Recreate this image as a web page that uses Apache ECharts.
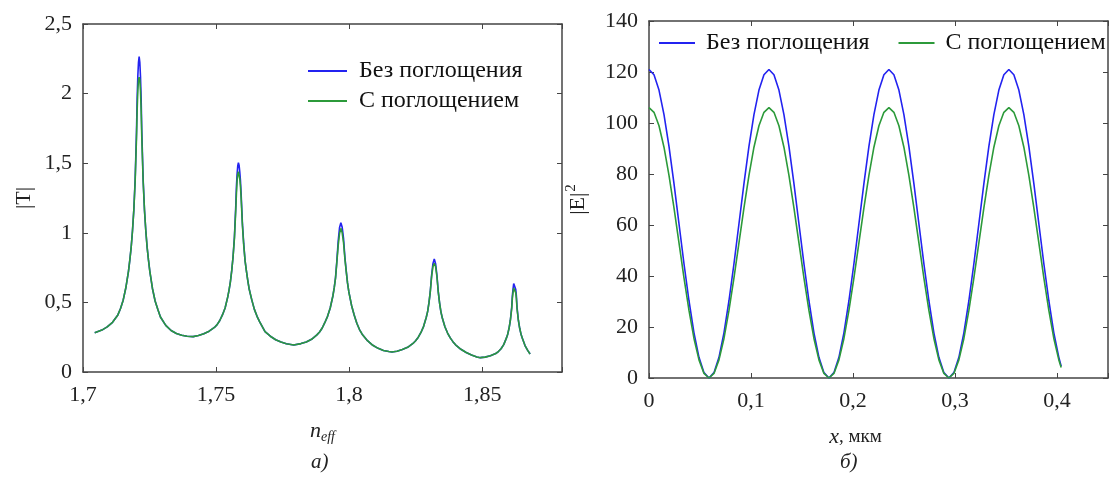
<!DOCTYPE html>
<html>
<head>
<meta charset="utf-8">
<script src="https://cdn.jsdelivr.net/npm/echarts@6/dist/echarts.min.js"></script>
<style>
  html, body { margin: 0; padding: 0; background: #fff; }
  #chart { width: 1111px; height: 477px; }
</style>
</head>
<body>
<div id="chart"></div>
<script>
// ---- данные (а): |T| от n_eff ----
var nEff = [
  1.7044, 1.7071, 1.7091, 1.7111, 1.7131, 1.7141, 1.7151, 1.7161, 1.7171, 1.7176, 1.7181, 1.7186, 1.7191, 1.7196, 1.7201, 1.72035, 1.7206, 1.72085, 1.7211,
  1.72135, 1.7216, 1.72185, 1.7221, 1.7226, 1.7231, 1.7236, 1.7241, 1.7246, 1.7251, 1.7261, 1.7271, 1.7281, 1.7291, 1.7311, 1.7331, 1.7351, 1.7371, 1.7391, 1.7414,
  1.7434, 1.7454, 1.7474, 1.7494, 1.7504, 1.7514, 1.7524, 1.7534, 1.7544, 1.7549, 1.7554, 1.7559, 1.7564, 1.7569, 1.7574, 1.75765, 1.7579, 1.75815, 1.7584,
  1.75865, 1.7589, 1.75915, 1.7594, 1.7599, 1.7604, 1.7609, 1.7614, 1.7619, 1.7624, 1.7634, 1.7644, 1.7654, 1.7664, 1.7684, 1.7704, 1.7724, 1.7744, 1.7764, 1.7792,
  1.7819, 1.7839, 1.7859, 1.7879, 1.7889, 1.7899, 1.7909, 1.7919, 1.7929, 1.7939, 1.7944, 1.7949, 1.7954, 1.7959, 1.7964, 1.7969,
  1.7974, 1.7979, 1.7984, 1.7989, 1.7994, 1.7999, 1.8009, 1.8019, 1.8029, 1.8039, 1.8049, 1.8069, 1.8089, 1.8109, 1.8129, 1.8149, 1.8161,
  1.8180, 1.8200, 1.8220, 1.8240, 1.8250, 1.8260, 1.8270, 1.8280, 1.8290, 1.8295, 1.8300, 1.8305, 1.8310, 1.8315, 1.8320,
  1.8325, 1.8330, 1.8335, 1.8340, 1.8345, 1.8350, 1.8360, 1.8370, 1.8380, 1.8390, 1.8400, 1.8420, 1.8440, 1.8460, 1.8480, 1.8493,
  1.8511, 1.8531, 1.8551, 1.8561, 1.8571, 1.8581, 1.8591, 1.8596, 1.8601, 1.8606, 1.8611, 1.86135, 1.8616, 1.86185, 1.8621,
  1.86235, 1.8626, 1.86285, 1.8631, 1.8636, 1.8641, 1.8646, 1.8651, 1.8661, 1.8671, 1.8680
];
// без поглощения
var tNoLoss = [
  0.282, 0.301, 0.324, 0.357, 0.41, 0.456, 0.516, 0.605, 0.725, 0.805, 0.895, 1.015, 1.165, 1.385, 1.725, 1.965, 2.125, 2.225, 2.265,
  2.225, 2.125, 1.965, 1.725, 1.385, 1.165, 1.015, 0.895, 0.805, 0.725, 0.60, 0.51, 0.45, 0.395, 0.335, 0.298, 0.277, 0.264, 0.257, 0.254,
  0.262, 0.275, 0.293, 0.32, 0.34, 0.37, 0.41, 0.46, 0.54, 0.59, 0.65, 0.73, 0.83, 0.97, 1.19, 1.33, 1.42, 1.48, 1.504,
  1.486, 1.44, 1.38, 1.29, 1.07, 0.92, 0.80, 0.726, 0.66, 0.60, 0.52, 0.45, 0.40, 0.36, 0.29, 0.257, 0.232, 0.215, 0.203, 0.194,
  0.204, 0.216, 0.235, 0.267, 0.287, 0.316, 0.356, 0.40, 0.46, 0.546, 0.604, 0.68, 0.80, 0.94, 1.036, 1.073,
  1.04, 0.96, 0.83, 0.73, 0.64, 0.575, 0.48, 0.41, 0.35, 0.305, 0.272, 0.225, 0.192, 0.17, 0.155, 0.147, 0.144,
  0.149, 0.162, 0.177, 0.205, 0.225, 0.25, 0.284, 0.328, 0.393, 0.434, 0.496, 0.578, 0.695, 0.778, 0.812,
  0.778, 0.695, 0.578, 0.495, 0.432, 0.39, 0.325, 0.28, 0.245, 0.218, 0.195, 0.163, 0.14, 0.122, 0.108, 0.103,
  0.107, 0.117, 0.133, 0.147, 0.167, 0.197, 0.243, 0.272, 0.314, 0.372, 0.466, 0.549, 0.595, 0.635, 0.649,
  0.635, 0.595, 0.549, 0.466, 0.372, 0.314, 0.272, 0.243, 0.19, 0.155, 0.129
];
// с поглощением
var tLoss = [
  0.282, 0.301, 0.324, 0.357, 0.41, 0.456, 0.516, 0.605, 0.725, 0.805, 0.895, 1.015, 1.165, 1.37, 1.68, 1.88, 2.02, 2.10, 2.117,
  2.10, 2.02, 1.88, 1.68, 1.37, 1.165, 1.015, 0.895, 0.805, 0.725, 0.60, 0.51, 0.45, 0.395, 0.335, 0.298, 0.277, 0.264, 0.257, 0.254,
  0.262, 0.275, 0.293, 0.32, 0.34, 0.37, 0.41, 0.46, 0.54, 0.59, 0.65, 0.73, 0.83, 0.96, 1.16, 1.28, 1.37, 1.42, 1.439,
  1.425, 1.39, 1.34, 1.26, 1.055, 0.91, 0.80, 0.726, 0.66, 0.60, 0.52, 0.45, 0.40, 0.36, 0.29, 0.257, 0.232, 0.215, 0.203, 0.194,
  0.204, 0.216, 0.235, 0.267, 0.287, 0.316, 0.356, 0.40, 0.46, 0.546, 0.604, 0.675, 0.79, 0.91, 0.995, 1.032,
  1.0, 0.93, 0.815, 0.725, 0.64, 0.575, 0.48, 0.41, 0.35, 0.305, 0.272, 0.225, 0.192, 0.17, 0.155, 0.147, 0.144,
  0.149, 0.162, 0.177, 0.205, 0.225, 0.25, 0.284, 0.328, 0.393, 0.434, 0.496, 0.575, 0.685, 0.757, 0.781,
  0.757, 0.685, 0.575, 0.495, 0.432, 0.39, 0.325, 0.28, 0.245, 0.218, 0.195, 0.163, 0.14, 0.122, 0.108, 0.103,
  0.107, 0.117, 0.133, 0.147, 0.167, 0.197, 0.243, 0.272, 0.314, 0.372, 0.455, 0.53, 0.57, 0.603, 0.613,
  0.603, 0.57, 0.53, 0.455, 0.372, 0.314, 0.272, 0.243, 0.19, 0.155, 0.129
];

// ---- данные (б): |E|^2 от x, мкм ----
var xPos = [
  0, 0.0049, 0.0098, 0.0147, 0.0196, 0.0245, 0.0294, 0.0343, 0.0392, 0.0441, 0.049, 0.0539,
  0.0588, 0.0637, 0.0686, 0.0735, 0.0784, 0.0833, 0.0882, 0.0931, 0.098, 0.1029, 0.1078, 0.1127,
  0.1176, 0.1225, 0.1274, 0.1323, 0.1372, 0.1421, 0.147, 0.1519, 0.1568, 0.1617, 0.1666, 0.1715,
  0.1764, 0.1813, 0.1862, 0.1911, 0.196, 0.2009, 0.2058, 0.2107, 0.2156, 0.2205, 0.2254, 0.2303,
  0.2352, 0.2401, 0.245, 0.2499, 0.2548, 0.2597, 0.2646, 0.2695, 0.2744, 0.2793, 0.2842, 0.2891,
  0.294, 0.2989, 0.3038, 0.3087, 0.3136, 0.3185, 0.3234, 0.3283, 0.3332, 0.3381, 0.343, 0.3479,
  0.3528, 0.3577, 0.3626, 0.3675, 0.3724, 0.3773, 0.3822, 0.3871, 0.392, 0.3969, 0.4018, 0.4041
];
var eNoLoss = [
  121, 118.9, 112.9, 103.3, 90.8, 76.2, 60.5, 44.8, 30.3, 17.7, 8.1, 2.1,
  0, 2.1, 8.1, 17.7, 30.3, 44.8, 60.5, 76.2, 90.8, 103.3, 112.9, 118.9,
  121, 118.9, 112.9, 103.3, 90.8, 76.2, 60.5, 44.8, 30.3, 17.7, 8.1, 2.1,
  0, 2.1, 8.1, 17.7, 30.3, 44.8, 60.5, 76.2, 90.8, 103.3, 112.9, 118.9,
  121, 118.9, 112.9, 103.3, 90.8, 76.2, 60.5, 44.8, 30.3, 17.7, 8.1, 2.1,
  0, 2.1, 8.1, 17.7, 30.3, 44.8, 60.5, 76.2, 90.8, 103.3, 112.9, 118.9,
  121, 118.9, 112.9, 103.3, 90.8, 76.2, 60.5, 44.8, 30.3, 17.7, 8.1, 4.6
];
var eLoss = [
  106, 104.2, 98.9, 90.5, 79.5, 66.7, 53, 39.3, 26.5, 15.5, 7.1, 1.8,
  0, 1.8, 7.1, 15.5, 26.5, 39.3, 53, 66.7, 79.5, 90.5, 98.9, 104.2,
  106, 104.2, 98.9, 90.5, 79.5, 66.7, 53, 39.3, 26.5, 15.5, 7.1, 1.8,
  0, 1.8, 7.1, 15.5, 26.5, 39.3, 53, 66.7, 79.5, 90.5, 98.9, 104.2,
  106, 104.2, 98.9, 90.5, 79.5, 66.7, 53, 39.3, 26.5, 15.5, 7.1, 1.8,
  0, 1.8, 7.1, 15.5, 26.5, 39.3, 53, 66.7, 79.5, 90.5, 98.9, 104.2,
  106, 104.2, 98.9, 90.5, 79.5, 66.7, 53, 39.3, 26.5, 15.5, 7.1, 4.1
];

// подписи делений
var nTicks = [1.7, 1.75, 1.8, 1.85];
var nTickLabels = ['1,7', '1,75', '1,8', '1,85'];
var tTicks = [0, 0.5, 1, 1.5, 2, 2.5];
var tTickLabels = ['0', '0,5', '1', '1,5', '2', '2,5'];
var xTicks = [0, 0.1, 0.2, 0.3, 0.4];
var xTickLabels = ['0', '0,1', '0,2', '0,3', '0,4'];
var eTicks = [0, 20, 40, 60, 80, 100, 120, 140];
var eTickLabels = ['0', '20', '40', '60', '80', '100', '120', '140'];

var seriesNames = ['Без поглощения', 'С поглощением'];

var FONT = '"Liberation Serif", "Times New Roman", serif';
var BLUE = '#2323f0';
var GREEN = '#2c9a3a';
var AXIS = '#444';

function tickFmt(vals, labels) {
  return function (v) {
    for (var i = 0; i < vals.length; i++) {
      if (Math.abs(v - vals[i]) < 1e-6) return labels[i];
    }
    return '';
  };
}

function pairs(xs, ys) {
  return xs.map(function (x, i) { return [x, ys[i]]; });
}

// ось с рамкой: основная (с подписями) или зеркальная (только рамка и деления)
function valueAxis(gridIndex, position, min, max, interval, vals, labels, margin) {
  return {
    type: 'value',
    gridIndex: gridIndex,
    position: position,
    min: min,
    max: max,
    interval: interval,
    axisLine: { show: true, onZero: false, lineStyle: { color: AXIS, width: 1.5 } },
    axisTick: { show: true, inside: true, length: 5, lineStyle: { color: AXIS, width: 1 } },
    axisLabel: {
      show: !!vals,
      margin: margin || 11,
      color: '#222',
      fontSize: 22,
      fontFamily: FONT,
      formatter: vals ? tickFmt(vals, labels) : null
    },
    splitLine: { show: false }
  };
}

var chart = echarts.init(document.getElementById('chart'));

var xAxes = [
  valueAxis(0, 'bottom', 1.7, 1.88, 0.05, nTicks, nTickLabels, 12),
  valueAxis(0, 'top', 1.7, 1.88, 0.05),
  valueAxis(1, 'bottom', 0, 0.45, 0.1, xTicks, xTickLabels, 12),
  valueAxis(1, 'top', 0, 0.45, 0.1)
];
var yAxes = [
  valueAxis(0, 'left', 0, 2.5, 0.5, tTicks, tTickLabels, 11),
  valueAxis(0, 'right', 0, 2.5, 0.5),
  valueAxis(1, 'left', 0, 140, 20, eTicks, eTickLabels, 11),
  valueAxis(1, 'right', 0, 140, 20)
];

// подписи осей
xAxes[0].name = '{i|n}{sub|eff}';
xAxes[0].nameLocation = 'middle';
xAxes[0].nameGap = 46;
xAxes[0].nameTextStyle = {
  rich: {
    i: { fontSize: 22, fontStyle: 'italic', fontFamily: FONT, color: '#222' },
    sub: { fontSize: 14, fontStyle: 'italic', fontFamily: FONT, color: '#222', padding: [12, 0, 0, 0] }
  }
};
xAxes[2].name = '{i|x}{n|, мкм}';
xAxes[2].nameLocation = 'middle';
xAxes[2].nameGap = 48;
xAxes[2].nameTextStyle = {
  padding: [0, 46, 0, 0],
  rich: {
    i: { fontSize: 22, fontStyle: 'italic', fontFamily: FONT, color: '#222' },
    n: { fontSize: 19, fontFamily: FONT, color: '#222' }
  }
};
yAxes[0].name = '|T|';
yAxes[0].nameLocation = 'middle';
yAxes[0].nameGap = 48;
yAxes[0].nameTextStyle = { fontSize: 22, fontFamily: FONT, color: '#222' };
yAxes[2].name = '{b||E|}{sup|2}';
yAxes[2].nameLocation = 'middle';
yAxes[2].nameGap = 56;
yAxes[2].nameTextStyle = {
  rich: {
    b: { fontSize: 22, fontFamily: FONT, color: '#222' },
    sup: { fontSize: 15, fontFamily: FONT, color: '#222', padding: [0, 0, 14, 1] }
  }
};

function lineSeries(name, color, xi, yi, data) {
  return {
    name: name,
    type: 'line',
    xAxisIndex: xi,
    yAxisIndex: yi,
    data: data,
    symbol: 'none',
    smooth: false,
    lineStyle: { color: color, width: 1.6 },
    itemStyle: { color: color }
  };
}

var option = {
  backgroundColor: '#fff',
  animation: false,
  grid: [
    { left: 83, top: 24, width: 479, height: 348 },
    { left: 649, top: 21, width: 468, height: 357 }
  ],
  xAxis: xAxes,
  yAxis: yAxes,
  legend: [
    {
      orient: 'vertical',
      left: 308,
      top: 59,
      padding: 0,
      icon: 'rect',
      itemWidth: 39,
      itemHeight: 2,
      itemGap: 6,
      data: seriesNames,
      textStyle: { fontSize: 24, fontFamily: FONT, color: '#111', padding: [0, 0, 0, 7] }
    },
    {
      orient: 'horizontal',
      left: 659,
      top: 31,
      padding: 0,
      icon: 'rect',
      itemWidth: 36,
      itemHeight: 2,
      itemGap: 29,
      data: seriesNames,
      textStyle: { fontSize: 24, fontFamily: FONT, color: '#111', padding: [0, 0, 0, 6] }
    }
  ],
  graphic: [
    {
      type: 'text', left: 311, top: 452,
      style: { text: 'a)', fontSize: 21, fontStyle: 'italic', fontFamily: FONT, fill: '#222' }
    },
    {
      type: 'text', left: 840, top: 452,
      style: { text: 'б)', fontSize: 21, fontStyle: 'italic', fontFamily: FONT, fill: '#222' }
    }
  ],
  series: [
    lineSeries(seriesNames[0], BLUE, 0, 0, pairs(nEff, tNoLoss)),
    lineSeries(seriesNames[1], GREEN, 0, 0, pairs(nEff, tLoss)),
    lineSeries(seriesNames[0], BLUE, 2, 2, pairs(xPos, eNoLoss)),
    lineSeries(seriesNames[1], GREEN, 2, 2, pairs(xPos, eLoss))
  ]
};

chart.setOption(option);
</script>
</body>
</html>
